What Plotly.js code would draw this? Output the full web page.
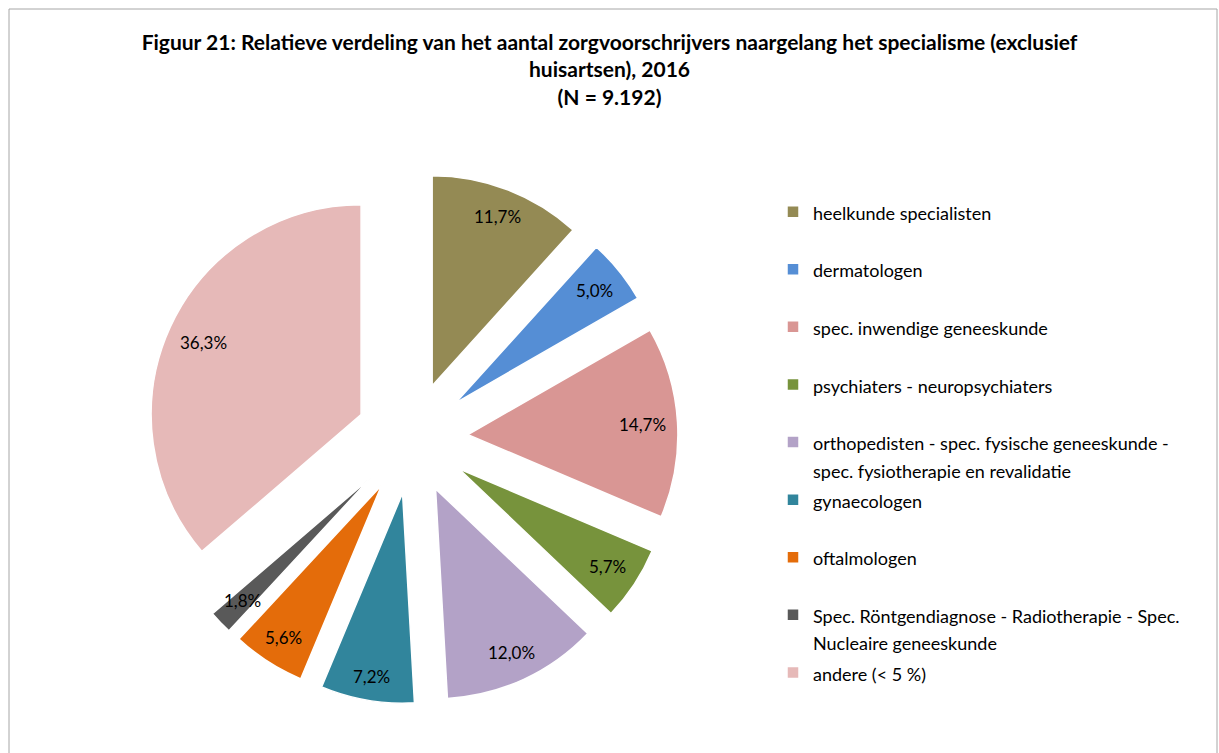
<!DOCTYPE html>
<html>
<head>
<meta charset="utf-8">
<script src="https://cdn.plot.ly/plotly-3.0.1.min.js"></script>
<style>html,body{margin:0;padding:0;background:#fff;}#chart{width:1219px;height:753px;}</style>
</head>
<body>
<div id="chart"></div>
<script>
const categories = [
  'heelkunde specialisten',
  'dermatologen',
  'spec. inwendige geneeskunde',
  'psychiaters - neuropsychiaters',
  'orthopedisten - spec. fysische geneeskunde -<br>spec. fysiotherapie en revalidatie',
  'gynaecologen',
  'oftalmologen',
  'Spec. Röntgendiagnose - Radiotherapie - Spec.<br>Nucleaire geneeskunde',
  'andere (< 5 %)'
];
const shares = [11.7, 5.0, 14.7, 5.7, 12.0, 7.2, 5.6, 1.8, 36.3];
const colors = ['#948A54', '#558ED5', '#D99694', '#77933C', '#B3A2C7', '#31859C', '#E46C0A', '#595959', '#E6B9B8'];

const W = 1219, H = 753;
const domX = [0.1198, 0.5562];
const domY = [0.0651, 0.7716];
const pull = 0.267;
const labelSize = 17;      // data label size
const legendSize = 18;     // visible legend text size
const slotFont = 21;       // legend base font: 2 lines of 1.3*21 + 3 = one legend slot

// every legend entry takes two lines so the entries are evenly spaced
const legendLabels = categories.map((c, i) => {
  const lines = c.split('<br>');
  const styled = lines.map(l => '<span style="font-size:' + legendSize + 'px">' + l + '</span>');
  if (lines.length < 2 && i < categories.length - 1) styled.push(' ');
  return styled.join('<br>');
});

const trace = {
  type: 'pie',
  labels: legendLabels,
  values: shares,
  sort: false,
  direction: 'clockwise',
  rotation: 0,
  pull: shares.map(() => pull),
  marker: { colors: colors, line: { color: '#ffffff', width: 1.5 } },
  textinfo: 'none',
  hoverinfo: 'label+percent',
  domain: { x: domX, y: domY }
};

// data labels, placed from each slice's mid-angle (Excel-like outer placement)
const total = shares.reduce((a, b) => a + b, 0);
const cx = (domX[0] + domX[1]) / 2 * W;
const cy = (1 - (domY[0] + domY[1]) / 2) * H;
const R = Math.min((domX[1] - domX[0]) * W, (domY[1] - domY[0]) * H) / (2 * (1 + pull));
let cum = 0;
const annotations = shares.map(v => {
  const mid = (cum + v / 2) / total * 2 * Math.PI;
  cum += v;
  const txt = v.toFixed(1).replace('.', ',') + '%';
  const dx = Math.sin(mid), dy = -Math.cos(mid);
  const halfW = txt.length * 0.56 * labelSize / 2, halfH = 10;
  const d = 0.95 * R - (halfW * Math.abs(dx) + halfH * Math.abs(dy));
  const rr = pull * R + d;
  const px = cx + dx * rr, py = cy + dy * rr;
  return {
    x: px / W, y: 1 - py / H, xref: 'paper', yref: 'paper',
    xanchor: 'center', yanchor: 'middle',
    text: txt,
    showarrow: false,
    font: { family: 'Lato, sans-serif', size: labelSize, color: '#000000' }
  };
});

const layout = {
  width: W, height: H,
  margin: { l: 0, r: 0, t: 0, b: 0 },
  paper_bgcolor: '#ffffff',
  font: { family: 'Lato, sans-serif', size: 15, color: '#000000' },
  title: {
    text: '<b>Figuur 21: Relatieve verdeling van het aantal zorgvoorschrijvers naargelang het specialisme (exclusief<br>huisartsen), 2016<br>(N = 9.192)</b>',
    font: { family: 'Lato, sans-serif', size: 21, color: '#000000' },
    x: 0.5, xanchor: 'center',
    y: 1 - 50 / H, yanchor: 'top'
  },
  showlegend: true,
  legend: {
    x: 773 / W, xanchor: 'left',
    y: 1 - 191.5 / H, yanchor: 'top',
    valign: 'top',
    font: { family: 'Lato, sans-serif', size: slotFont, color: '#000000' },
    bgcolor: 'rgba(0,0,0,0)'
  },
  annotations: annotations,
  shapes: [{
    type: 'rect', xref: 'paper', yref: 'paper',
    x0: 9 / W, x1: 1217 / W, y0: -0.02, y1: 1 - 9 / H,
    line: { color: '#A6A6A6', width: 1 }
  }]
};

Plotly.newPlot('chart', [trace], layout, { displayModeBar: false, staticPlot: true });
</script>
</body>
</html>
